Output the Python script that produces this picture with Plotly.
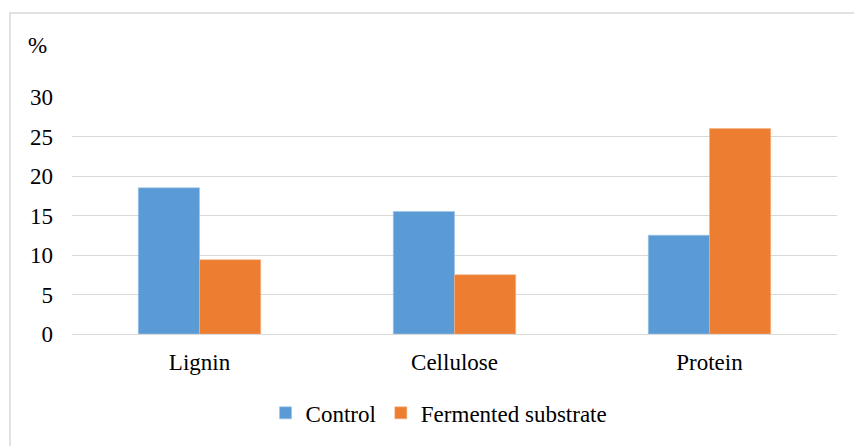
import plotly.graph_objects as go

categories = ["Lignin", "Cellulose", "Protein"]
control = [18.5, 15.5, 12.5]
fermented = [9.4, 7.5, 26.0]
series_names = ["Control", "Fermented substrate"]
y_ticks = [0, 5, 10, 15, 20, 25, 30]

FONT = "Liberation Serif"
GRID = "#d9d9d9"

fig = go.Figure()
fig.add_trace(go.Bar(x=categories, y=control, name=series_names[0],
                     marker=dict(color="#5B9BD5", line=dict(color="#9cc3e6", width=0.6))))
fig.add_trace(go.Bar(x=categories, y=fermented, name=series_names[1],
                     marker=dict(color="#ED7D31", line=dict(color="#f4b183", width=0.6))))

fig.update_layout(
    width=854, height=446,
    margin=dict(l=72, r=17, t=97, b=112),
    paper_bgcolor="white", plot_bgcolor="white",
    barmode="group", bargap=0.52, bargroupgap=0,
    font=dict(family=FONT, size=23, color="black"),
    showlegend=True,
    legend=dict(orientation="h", x=0.253, xanchor="left", y=-0.333, yanchor="middle",
                font=dict(family="Times New Roman", size=23, color="black"),
                itemwidth=30, traceorder="normal", bgcolor="rgba(0,0,0,0)"),
    xaxis=dict(showgrid=False, showline=False, zeroline=False, ticks="",
               ticklabelstandoff=12, tickfont=dict(family=FONT, size=23)),
    yaxis=dict(range=[0, 30], tickvals=y_ticks, showgrid=True, gridcolor=GRID, gridwidth=1.3,
               zeroline=True, zerolinecolor=GRID, zerolinewidth=1.3, showline=False,
               ticks="", ticklabelstandoff=18, tickfont=dict(family=FONT, size=23)),
    annotations=[dict(text="%", xref="paper", yref="paper", x=(37 - 72) / 765, y=(334 - 46) / 237,
                      xanchor="center", yanchor="middle", showarrow=False,
                      font=dict(family=FONT, size=23, color="black"))],
    shapes=[dict(type="rect", xref="paper", yref="paper",
                 x0=(10 - 72) / 765, x1=(870 - 72) / 765,
                 y0=(334 - 470) / 237, y1=(334 - 13) / 237,
                 line=dict(color=GRID, width=1.5), fillcolor="rgba(0,0,0,0)", layer="below")],
)

fig.write_html("out.html", config={"displayModeBar": False},
               post_script="document.body.style.margin='0';")
